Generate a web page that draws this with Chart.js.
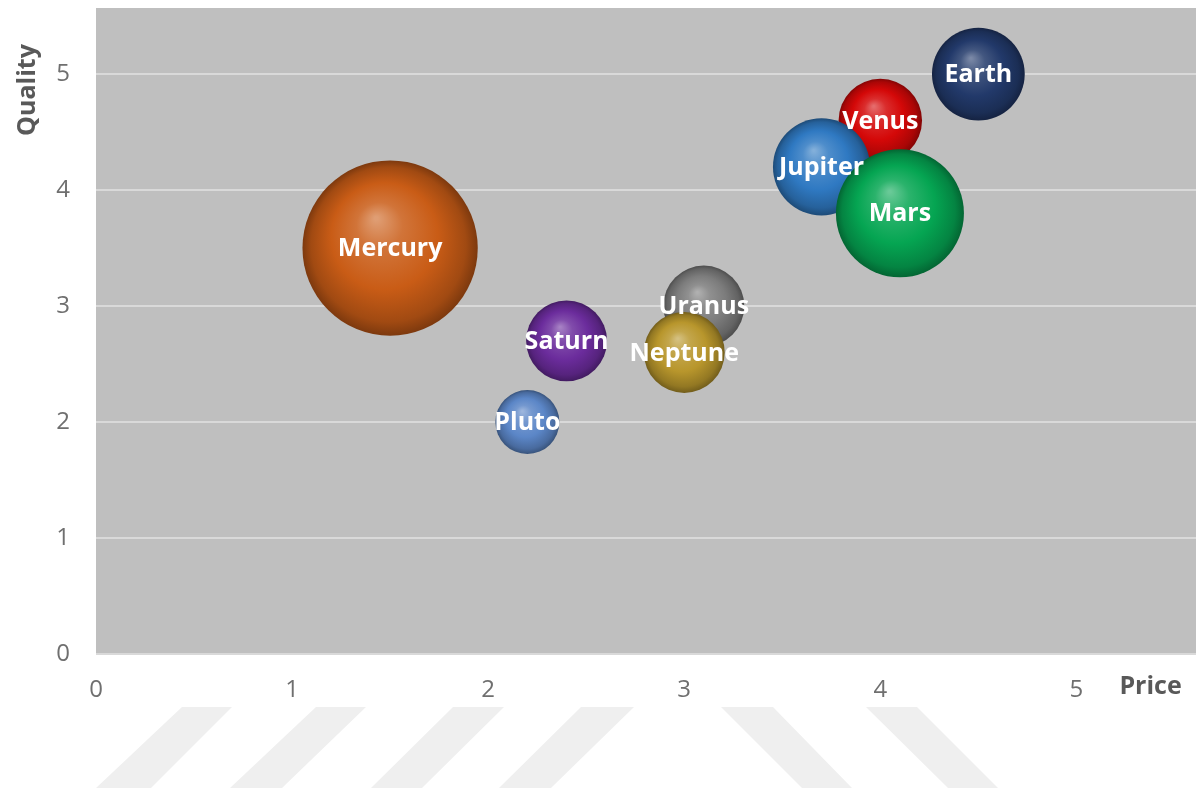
<!DOCTYPE html>
<html lang="en">

<head>
    <meta charset="UTF-8">
    <title>Price / Quality</title>
    <script src="https://cdn.jsdelivr.net/npm/chart.js"></script>
    <style>
        html, body { margin: 0; padding: 0; background: #ffffff; }
        .estilizar { width: 1200px; height: 791px; }
    </style>
</head>

<body>
    <div class="estilizar">
        <canvas id="bolhas"></canvas>
    </div>
</body>

</html>

<script>
    // dados
    const planetas = ['Mercury', 'Venus', 'Earth', 'Jupiter', 'Mars', 'Saturn', 'Uranus', 'Neptune', 'Pluto'];
    const preco = [1.5, 4.0, 4.5, 3.7, 4.1, 2.4, 3.1, 3.0, 2.2];
    const qualidade = [3.5, 4.6, 5.0, 4.2, 3.8, 2.7, 3.0, 2.6, 2.0];
    const tamanho = [7.5, 1.7, 2.1, 2.3, 4.0, 1.6, 1.6, 1.6, 1.0];
    const ticksX = [0, 1, 2, 3, 4, 5];
    const ticksY = [0, 1, 2, 3, 4, 5];

    const cores = ['#c95c16', '#d40808', '#22396a', '#2f79c2', '#05a552', '#6b2c9c', '#7c7c7c', '#b8962c', '#5b86c7'];

    const RAIO = 32; // raio (px) de uma bolha de tamanho 1

    function hexRgb(h) {
        return [parseInt(h.substr(1, 2), 16), parseInt(h.substr(3, 2), 16), parseInt(h.substr(5, 2), 16)];
    }
    function misturar(h, alvo, t) {
        const a = hexRgb(h);
        const c = a.map((v, i) => Math.round(v + (alvo[i] - v) * t));
        return `rgb(${c[0]}, ${c[1]}, ${c[2]})`;
    }

    // gradiente radial para parecer uma esfera
    function esfera(c) {
        const base = cores[c.dataIndex] || '#888888';
        const chart = c.chart;
        if (!c.raw || !chart.chartArea || !chart.scales.x) return base;
        const px = chart.scales.x.getPixelForValue(c.raw.x);
        const py = chart.scales.y.getPixelForValue(c.raw.y);
        const r = c.raw.r;
        const g = chart.ctx.createRadialGradient(px - 0.16 * r, py - 0.34 * r, r * 0.02, px, py, r);
        g.addColorStop(0, misturar(base, [255, 255, 255], 0.40));
        g.addColorStop(0.25, misturar(base, [255, 255, 255], 0.15));
        g.addColorStop(0.6, base);
        g.addColorStop(0.88, misturar(base, [0, 0, 0], 0.2));
        g.addColorStop(1, misturar(base, [0, 0, 0], 0.38));
        return g;
    }

    let pontos = [];
    for (let i = 0; i < planetas.length; i++) {
        pontos.push({ x: preco[i], y: qualidade[i], r: RAIO * Math.sqrt(tamanho[i]) });
    }

    // fundo cinza da area e faixas claras embaixo
    const fundo = {
        id: 'fundo',
        beforeDraw(chart) {
            const ctx = chart.ctx;
            const a = chart.chartArea;
            ctx.save();
            ctx.fillStyle = '#efefef';
            const faixas = [
                [182, 232, 151, 96], [316, 366, 282, 230], [453, 504, 422, 371],
                [581, 634, 551, 499], [721, 773, 852, 802], [866, 917, 998, 948]
            ];
            faixas.forEach(f => {
                ctx.beginPath();
                ctx.moveTo(f[0], 707);
                ctx.lineTo(f[1], 707);
                ctx.lineTo(f[2], 788);
                ctx.lineTo(f[3], 788);
                ctx.closePath();
                ctx.fill();
            });
            ctx.fillStyle = '#bfbfbf';
            ctx.fillRect(a.left, a.top, a.right - a.left, a.bottom - a.top);
            ctx.restore();
        }
    };

    // nomes dentro das bolhas e titulos dos eixos
    const rotulos = {
        id: 'rotulos',
        afterDatasetsDraw(chart) {
            const ctx = chart.ctx;
            const meta = chart.getDatasetMeta(0);
            ctx.save();
            ctx.fillStyle = '#ffffff';
            ctx.font = 'bold 25px "Open Sans"';
            ctx.textAlign = 'center';
            ctx.textBaseline = 'middle';
            meta.data.forEach((el, i) => {
                ctx.fillText(planetas[i], el.x, el.y + 1);
            });

            const a = chart.chartArea;
            ctx.fillStyle = '#595959';
            ctx.font = 'bold 25px "Open Sans"';
            ctx.save();
            ctx.translate(a.left - 68, a.top + 82);
            ctx.rotate(-Math.PI / 2);
            ctx.fillText('Quality', 0, 0);
            ctx.restore();
            ctx.textAlign = 'left';
            ctx.fillText('Price', chart.scales.x.getPixelForValue(5) + 43, a.bottom + 33);
            ctx.restore();
        }
    };

    const config = {
        type: 'bubble',
        data: {
            datasets: [{
                label: 'Planetas',
                data: pontos,
                backgroundColor: esfera,
                borderWidth: 0,
                hoverBorderWidth: 0,
                clip: false
            }]
        },
        options: {
            responsive: true,
            maintainAspectRatio: false,
            animation: false,
            layout: { autoPadding: false, padding: { top: 8, right: 4, left: 0, bottom: 0 } },
            plugins: {
                legend: { display: false },
                tooltip: { enabled: false }
            },
            scales: {
                x: {
                    type: 'linear',
                    min: 0,
                    max: 5.61,
                    afterBuildTicks: s => { s.ticks = ticksX.map(v => ({ value: v })); },
                    afterFit: s => {
                        s.height = 791 - 654;
                        s.paddingLeft = 0;
                        s.paddingRight = 0;
                    },
                    grid: { display: false, drawTicks: false },
                    border: { display: false },
                    ticks: {
                        color: '#6f6f6f',
                        font: { family: 'Open Sans', size: 24 },
                        padding: 22,
                        maxRotation: 0
                    }
                },
                y: {
                    type: 'linear',
                    min: 0,
                    max: 5.57,
                    afterBuildTicks: s => { s.ticks = ticksY.map(v => ({ value: v })); },
                    afterFit: s => {
                        s.width = 96;
                        s.paddingTop = 0;
                        s.paddingBottom = 0;
                    },
                    grid: { color: '#d9d9d9', lineWidth: 2, drawTicks: false },
                    border: { display: false },
                    ticks: {
                        color: '#6f6f6f',
                        font: { family: 'Open Sans', size: 24 },
                        padding: 26
                    }
                }
            }
        },
        plugins: [fundo, rotulos]
    };

    let grafico = new Chart(document.getElementById('bolhas'), config);
</script>
